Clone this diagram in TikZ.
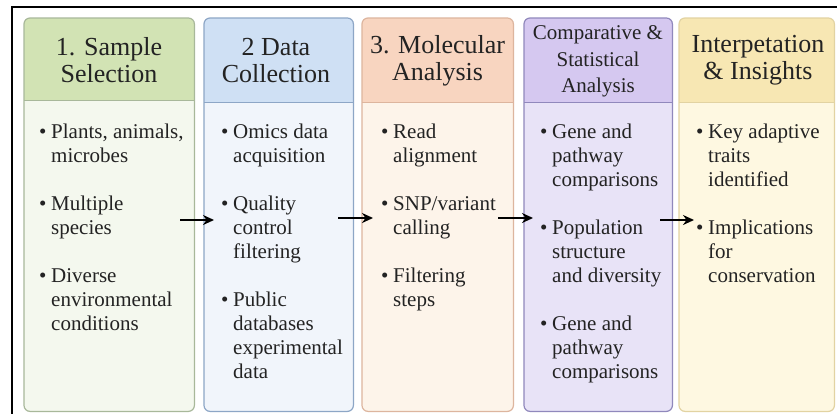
\documentclass[tikz,border=0pt]{standalone}
\usepackage{fontspec}
\setmainfont{Liberation Serif}
\usetikzlibrary{arrows.meta}
\definecolor{gH}{HTML}{D2E3B4}\definecolor{gB}{HTML}{F4F8EE}\definecolor{gL}{HTML}{A8B89A}
\definecolor{bH}{HTML}{CFE0F4}\definecolor{bB}{HTML}{F1F5FB}\definecolor{bL}{HTML}{8DA6C6}
\definecolor{oH}{HTML}{F8D5C0}\definecolor{oB}{HTML}{FDF4EA}\definecolor{oL}{HTML}{DDB59E}
\definecolor{pH}{HTML}{D5C8F0}\definecolor{pB}{HTML}{E8E3F7}\definecolor{pL}{HTML}{9088BC}
\definecolor{yH}{HTML}{F7E7B3}\definecolor{yB}{HTML}{FEF8E1}\definecolor{yL}{HTML}{E2D3A2}
\definecolor{txt}{HTML}{232323}
\newcommand{\bul}{\makebox[12pt][l]{\textbullet}}
\tikzset{
  colbox/.style={rounded corners=6pt, inner sep=0pt, anchor=north west, minimum height=393pt},
  hdrtxt/.style={align=center, text=txt, inner sep=0pt, font=\fontsize{26}{27}\selectfont},
  hdrsmall/.style={align=center, text=txt, inner sep=0pt, font=\fontsize{21}{26.5}\selectfont},
  bodytxt/.style={anchor=base west, text=txt, inner sep=0pt, font=\fontsize{21}{24}\selectfont},
  flow/.style={line width=1.8pt, -{Stealth[length=11pt,width=10pt]}, black}
}
\begin{document}
\begin{tikzpicture}[x=1pt,y=-1pt]
\useasboundingbox (0,0) rectangle (837,413);
\fill[white] (0,0) rectangle (837,413);
% outer frame (left and top)
\draw[line width=2.6pt, line cap=rect] (12,413) -- (12,7) -- (837,7);

% box 1
\node[colbox, fill=gB, minimum width=170pt] (b1) at (24,18) {};
\fill[gH, rounded corners=6pt] (24,100) -- (24,18) -- (194,18) -- (194,100);
\draw[gL, line width=1pt] (24,100) -- (194,100);
\draw[gL, line width=1.2pt, rounded corners=6pt] (b1.south west) rectangle (b1.north east);
% box 2
\node[colbox, fill=bB, minimum width=149pt] (b2) at (204,18) {};
\fill[bH, rounded corners=6pt] (204,102) -- (204,18) -- (353,18) -- (353,102);
\draw[bL, line width=1pt] (204,102) -- (353,102);
\draw[bL, line width=1.2pt, rounded corners=6pt] (b2.south west) rectangle (b2.north east);
% box 3
\node[colbox, fill=oB, minimum width=151pt] (b3) at (362,18) {};
\fill[oH, rounded corners=6pt] (362,102) -- (362,18) -- (513,18) -- (513,102);
\draw[oL, line width=1pt] (362,102) -- (513,102);
\draw[oL, line width=1.2pt, rounded corners=6pt] (b3.south west) rectangle (b3.north east);
% box 4
\node[colbox, fill=pB, minimum width=148pt] (b4) at (524,18) {};
\fill[pH, rounded corners=6pt] (524,102) -- (524,18) -- (672,18) -- (672,102);
\draw[pL, line width=1pt] (524,102) -- (672,102);
\draw[pL, line width=1.2pt, rounded corners=6pt] (b4.south west) rectangle (b4.north east);
% box 5
\node[colbox, fill=yB, minimum width=155pt] (b5) at (679,18) {};
\fill[yH, rounded corners=6pt] (679,102) -- (679,18) -- (834,18) -- (834,102);
\draw[yL, line width=1pt] (679,102) -- (834,102);
\draw[yL, line width=1.2pt, rounded corners=6pt] (b5.south west) rectangle (b5.north east);

% headers
\node[hdrtxt] (h1) at (109,60) {1. Sample\\Selection};
\node[hdrtxt] (h2) at (276,61) {2 Data\\Collection};
\node[hdrtxt] (h3) at (437.5,61) {3. Molecular\\Analysis};
\node[hdrsmall] (h4) at (598,61.5) {Comparative \&\\Statistical\\Analysis};
\node[hdrtxt] (h5) at (758,60) {Interpetation\\\& Insights};

% bodies
\node[bodytxt] (t1) at (39,138) {\begin{tabular}[t]{@{}l@{}l@{}}
\bul & Plants, animals,\\ & microbes\\ \\
\bul & Multiple\\ & species\\ \\
\bul & Diverse\\ & environmental\\ & conditions
\end{tabular}};
\node[bodytxt] (t2) at (221,138) {\begin{tabular}[t]{@{}l@{}l@{}}
\bul & Omics data\\ & acquisition\\ \\
\bul & Quality\\ & control\\ & filtering\\ \\
\bul & Public\\ & databases\\ & experimental\\ & data
\end{tabular}};
\node[bodytxt] (t3) at (381,138) {\begin{tabular}[t]{@{}l@{}l@{}}
\bul & Read\\ & alignment\\ \\
\bul & SNP/variant\\ & calling\\ \\
\bul & Filtering\\ & steps
\end{tabular}};
\node[bodytxt] (t4) at (540,138) {\begin{tabular}[t]{@{}l@{}l@{}}
\bul & Gene and\\ & pathway\\ & comparisons\\ \\
\bul & Population\\ & structure\\ & and diversity\\ \\
\bul & Gene and\\ & pathway\\ & comparisons
\end{tabular}};
\node[bodytxt] (t5) at (696,138) {\begin{tabular}[t]{@{}l@{}l@{}}
\bul & Key adaptive\\ & traits\\ & identified\\ \\
\bul & Implications\\ & for\\ & conservation
\end{tabular}};

% arrows
\coordinate (a1s) at (180,220); \coordinate (a1e) at (214,220);
\coordinate (a2s) at (338,218); \coordinate (a2e) at (373,218);
\coordinate (a3s) at (498,218); \coordinate (a3e) at (533,218);
\coordinate (a4s) at (660,220); \coordinate (a4e) at (694,220);
\draw[flow] (a1s) -- (a1e);
\draw[flow] (a2s) -- (a2e);
\draw[flow] (a3s) -- (a3e);
\draw[flow] (a4s) -- (a4e);
\end{tikzpicture}
\end{document}
